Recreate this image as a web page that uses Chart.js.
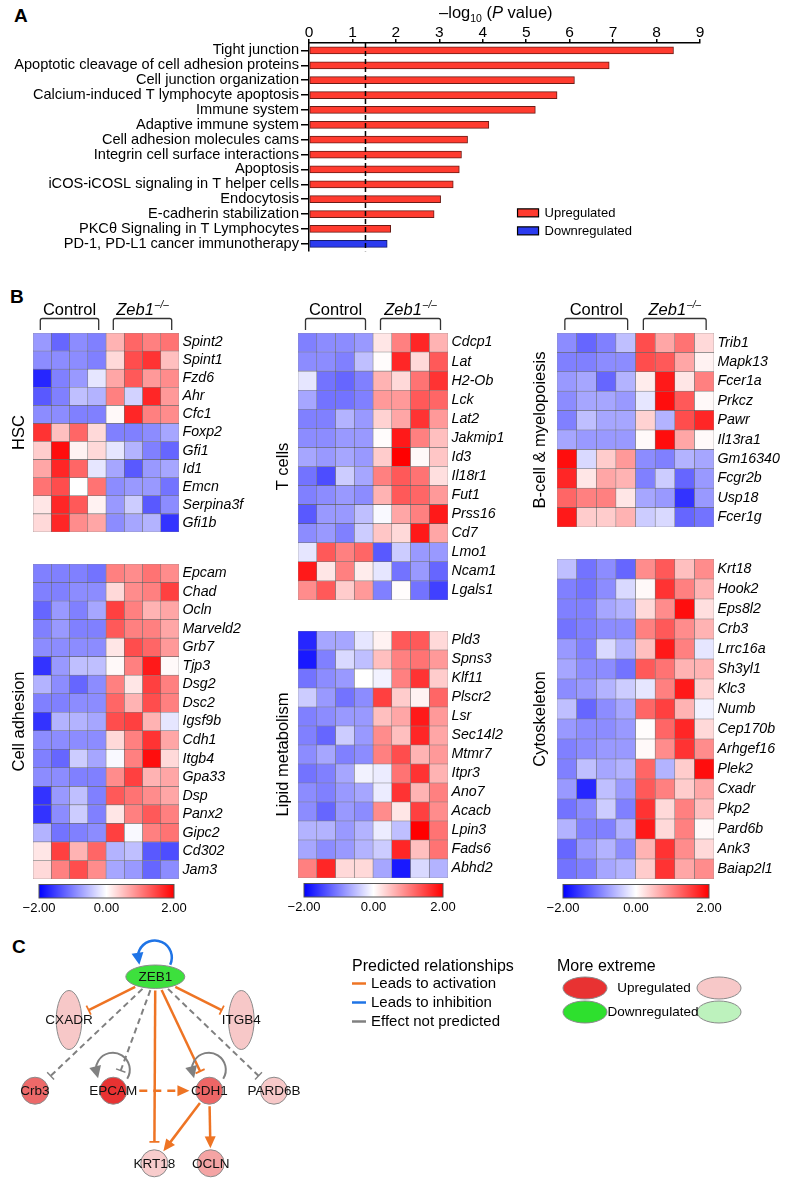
<!DOCTYPE html>
<html lang="en">
<head>
<meta charset="UTF-8">
<meta name="viewport" content="width=device-width, initial-scale=1.0">
<title>Zeb1 pathways, heatmaps and network</title>
<script src="https://cdn.jsdelivr.net/npm/chart.js"></script>
<style>
  html, body { margin: 0; padding: 0; background: #fff; }
  body { position: relative; width: 790px; height: 1184px; overflow: hidden;
         font-family: "Liberation Sans", Arial, Helvetica, sans-serif; }
  canvas { position: absolute; }
  .panel { position: absolute; font-weight: bold; font-size: 19px; line-height: 1; }
</style>
</head>
<body>
<div class="panel" style="left:14px;top:6px">A</div>
<div class="panel" style="left:10px;top:287px">B</div>
<div class="panel" style="left:12px;top:937px">C</div>

<script>
    // ---- panel A data ----
    const pathways = ['Tight junction', 'Apoptotic cleavage of cell adhesion proteins', 'Cell junction organization',
        'Calcium-induced T lymphocyte apoptosis', 'Immune system', 'Adaptive immune system',
        'Cell adhesion molecules cams', 'Integrin cell surface interactions', 'Apoptosis',
        'iCOS-iCOSL signaling in T helper cells', 'Endocytosis', 'E-cadherin stabilization',
        'PKC\u03B8 Signaling in T Lymphocytes', 'PD-1, PD-L1 cancer immunotherapy'];
    const upregulated = [8.39, 6.91, 6.11, 5.71, 5.21, 4.14, 3.65, 3.51, 3.46, 3.32, 3.03, 2.88, 1.88, null];
    const downregulated = [null, null, null, null, null, null, null, null, null, null, null, null, null, 1.80];
    const pCutoff = 1.30;
    const xTickValues = [0, 1, 2, 3, 4, 5, 6, 7, 8, 9];

    // ---- panel B data (z-scores, 4 control + 4 Zeb1-/- samples) ----
    const sampleGroups = ['Control', 'Zeb1'];
    const samplesPerGroup = 4;
    const colorbarTicks = [-2, 0, 2];

    const hscGenes = ['Spint2', 'Spint1', 'Fzd6', 'Ahr', 'Cfc1', 'Foxp2', 'Gfi1', 'Id1', 'Emcn', 'Serpina3f', 'Gfi1b'];
    const hscValues = [
        [-0.8, -1.2, -0.9, -1.0, 0.6, 1.2, 1.0, 1.1],
        [-0.9, -0.9, -0.9, -1.0, 0.3, 1.4, 1.6, 0.5],
        [-1.7, -1.0, -0.8, -0.2, 0.7, 1.3, 0.8, 0.9],
        [-1.3, -1.0, -0.5, -0.6, 1.0, -0.35, 1.7, 0.8],
        [-0.9, -0.9, -1.0, -1.0, 0.05, 1.7, 1.0, 0.9],
        [1.6, 0.5, 1.2, 0.3, -1.0, -1.0, -0.9, -0.7],
        [0.4, 1.9, 0.1, 0.3, -0.2, -0.6, -1.0, -1.2],
        [0.7, 1.7, 1.2, -0.2, -0.7, -1.3, -0.8, -0.7],
        [1.1, 1.4, 0.0, 1.1, -0.9, -0.8, -0.8, -1.1],
        [0.2, 1.7, 1.3, 0.1, -0.8, -0.4, -1.3, -0.9],
        [0.3, 1.7, 0.9, 0.7, -0.9, -0.7, -0.6, -1.6]
    ];
    const adhesionGenes = ['Epcam', 'Chad', 'Ocln', 'Marveld2', 'Grb7', 'Tjp3', 'Dsg2', 'Dsc2', 'Igsf9b', 'Cdh1',
        'Itgb4', 'Gpa33', 'Dsp', 'Panx2', 'Gipc2', 'Cd302', 'Jam3'];
    const adhesionValues = [
        [-1.0, -1.0, -1.0, -1.1, 1.0, 0.9, 1.1, 0.9],
        [-1.0, -1.0, -0.9, -0.9, 0.3, 0.9, 1.0, 1.5],
        [-1.2, -0.8, -1.0, -0.7, 1.5, 1.0, 0.6, 0.7],
        [-1.0, -0.8, -1.0, -1.0, 1.3, 1.0, 1.0, 0.7],
        [-0.9, -0.9, -0.9, -0.9, 0.2, 1.4, 1.2, 0.8],
        [-1.6, -0.8, -0.5, -0.5, 0.05, 1.0, 1.8, 0.05],
        [-0.6, -0.9, -1.2, -0.9, 1.0, 0.2, 1.5, 1.0],
        [-1.0, -1.0, -0.9, -0.9, 1.2, 0.6, 1.4, 1.0],
        [-1.6, -0.6, -0.6, -0.7, 1.4, 1.5, 0.6, -0.2],
        [-0.9, -0.9, -0.9, -0.9, 0.3, 1.0, 1.6, 0.7],
        [-1.0, -1.2, -0.4, -0.7, -0.05, 1.0, 1.9, 0.3],
        [-0.9, -0.9, -1.0, -1.0, 0.9, 1.5, 0.6, 0.7],
        [-1.6, -0.8, -0.5, -1.0, 1.3, 1.1, 0.9, 0.7],
        [-1.6, -0.9, -0.4, -1.0, 0.2, 1.0, 1.3, 1.0],
        [-0.6, -1.1, -1.0, -0.9, 1.5, -0.05, 1.0, 1.1],
        [0.2, 1.5, 0.6, 1.2, -0.6, -0.5, -1.3, -1.4],
        [0.3, 1.0, 1.4, 0.9, -0.7, -0.8, -1.2, -0.9]
    ];
    const tcellGenes = ['Cdcp1', 'Lat', 'H2-Ob', 'Lck', 'Lat2', 'Jakmip1', 'Id3', 'Il18r1', 'Fut1', 'Prss16', 'Cd7',
        'Lmo1', 'Ncam1', 'Lgals1'];
    const tcellValues = [
        [-1.0, -0.9, -0.9, -0.8, 0.2, 1.0, 1.7, 0.6],
        [-0.9, -0.9, -1.0, -0.5, 0.02, 1.7, 0.3, 1.3],
        [-0.2, -1.1, -1.2, -1.0, 0.6, 0.3, 1.1, 1.6],
        [-0.7, -1.1, -1.1, -1.0, 0.8, 0.8, 1.3, 1.2],
        [-1.0, -1.0, -0.6, -0.8, 0.35, 0.7, 1.6, 0.8],
        [-0.9, -0.9, -0.8, -0.8, 0.02, 1.8, 1.0, 0.5],
        [-0.7, -0.8, -0.7, -0.8, 0.4, 2.0, 0.05, 0.45],
        [-1.1, -1.4, -0.4, -0.7, 1.0, 1.3, 1.1, 0.25],
        [-1.0, -0.9, -0.8, -0.9, 0.6, 1.3, 1.2, 0.8],
        [-1.3, -0.8, -0.8, -0.5, -0.05, 0.7, 1.0, 1.8],
        [-0.9, -0.8, -1.0, -0.4, 0.45, 0.3, 1.8, 0.7],
        [-0.2, 1.3, 1.0, 1.2, -1.3, -0.4, -0.8, -0.8],
        [1.8, 0.2, 1.0, 0.15, -0.2, -1.1, -0.8, -1.2],
        [0.9, 1.3, 0.4, 0.8, -1.0, 0.02, -1.1, -1.5]
    ];
    const lipidGenes = ['Pld3', 'Spns3', 'Klf11', 'Plscr2', 'Lsr', 'Sec14l2', 'Mtmr7', 'Itpr3', 'Ano7', 'Acacb',
        'Lpin3', 'Fads6', 'Abhd2'];
    const lipidValues = [
        [-1.7, -0.7, -0.7, -0.2, 0.1, 1.3, 1.3, 0.3],
        [-1.8, -1.0, -0.3, -0.5, 0.5, 1.0, 1.1, 0.8],
        [-1.1, -0.9, -0.8, 0.0, -0.1, 1.0, 1.6, 0.4],
        [-0.4, -0.8, -1.1, -0.9, 1.5, 0.4, 0.1, 1.2],
        [-1.0, -0.9, -0.8, -0.8, 0.5, 0.7, 1.8, 0.8],
        [-1.0, -1.2, -0.4, -0.8, 0.9, 0.5, 1.7, 0.7],
        [-0.9, -0.7, -1.0, -0.9, 1.0, 1.4, 0.6, 0.8],
        [-1.1, -1.0, -0.7, -0.1, -0.15, 1.1, 1.6, 0.6],
        [-0.9, -1.0, -0.8, -0.7, -0.15, 1.6, 0.6, 1.0],
        [-0.9, -1.2, -0.8, -0.9, 0.9, 0.2, 1.5, 0.9],
        [-0.6, -0.6, -0.8, -0.6, -0.15, -0.5, 2.0, 1.1],
        [-0.7, -0.9, -0.8, -0.6, -0.4, 1.7, 0.5, 1.1],
        [1.0, 1.7, 0.3, 0.3, -0.7, -1.8, -0.3, -0.6]
    ];
    const bcellGenes = ['Trib1', 'Mapk13', 'Fcer1a', 'Prkcz', 'Pawr', 'Il13ra1', 'Gm16340', 'Fcgr2b', 'Usp18', 'Fcer1g'];
    const bcellValues = [
        [-0.9, -1.2, -1.0, -0.5, 1.4, 0.7, 1.1, 0.3],
        [-1.0, -1.0, -0.9, -0.9, 1.4, 1.3, 0.7, 0.1],
        [-0.8, -0.7, -1.2, -0.6, 0.15, 1.8, 0.2, 1.0],
        [-0.9, -0.7, -0.7, -0.8, -0.2, 1.9, 1.3, 0.05],
        [-1.0, -0.5, -0.7, -0.7, 0.35, -0.6, 1.4, 1.7],
        [-0.7, -0.8, -0.8, -0.8, 0.05, 1.9, 0.7, 0.05],
        [1.9, -0.3, 0.4, 0.8, -0.9, -1.0, -0.6, -0.7],
        [1.7, 0.2, 0.7, 0.6, -1.0, -0.4, -1.2, -0.8],
        [1.2, 1.0, 1.0, 0.2, -0.7, -0.8, -1.6, -0.8],
        [1.8, 0.4, 0.4, 0.6, -0.4, -0.3, -1.2, -1.1]
    ];
    const cytoGenes = ['Krt18', 'Hook2', 'Eps8l2', 'Crb3', 'Lrrc16a', 'Sh3yl1', 'Klc3', 'Numb', 'Cep170b', 'Arhgef16',
        'Plek2', 'Cxadr', 'Pkp2', 'Pard6b', 'Ank3', 'Baiap2l1'];
    const cytoValues = [
        [-0.5, -1.1, -0.9, -1.2, 0.9, 1.3, 0.5, 0.9],
        [-1.0, -1.1, -0.9, -0.3, 0.05, 1.6, 1.0, 0.6],
        [-1.0, -1.0, -0.7, -0.6, 0.3, 0.9, 1.9, 0.25],
        [-1.1, -1.0, -0.9, -0.9, 1.0, 1.3, 0.9, 0.6],
        [-0.8, -1.0, -0.3, -0.6, 0.5, 1.8, 1.0, -0.2],
        [-0.7, -0.9, -0.9, -1.1, 1.3, 1.1, 0.6, 0.6],
        [-0.9, -0.8, -0.6, -0.4, -0.2, 1.0, 1.8, 0.35],
        [-0.5, -1.2, -0.9, -0.7, 1.2, 1.5, 0.6, -0.1],
        [-0.8, -0.9, -0.9, -0.8, 0.02, 1.2, 1.7, 0.3],
        [-1.0, -0.9, -0.8, -0.8, 0.05, 0.9, 1.6, 0.9],
        [-1.0, -0.5, -0.7, -0.6, 1.2, -0.6, 0.4, 1.9],
        [-0.8, -1.7, -0.5, -0.8, 1.3, 1.0, 0.4, 0.7],
        [-1.1, -0.9, -0.4, -1.0, 1.6, 0.3, 1.0, 0.5],
        [-0.6, -1.0, -1.0, -0.6, 1.8, 0.3, 1.0, 0.05],
        [-1.2, -0.8, -0.6, -0.9, 0.6, 1.6, 0.9, 0.3],
        [-1.1, -1.0, -0.7, -0.6, 0.4, 1.6, 0.7, 0.9]
    ];

    // ---- panel C data (network) ----
    const nodeNames = ['ZEB1', 'CXADR', 'ITGB4', 'Crb3', 'EPCAM', 'CDH1', 'PARD6B', 'KRT18', 'OCLN'];
    const nodeX = [155.3, 69, 241.3, 35, 113.3, 209.3, 274, 154.3, 210.7];
    const nodeY = [976.7, 1020, 1020, 1090.7, 1090.7, 1090.7, 1090.7, 1163.3, 1163.3];
    const nodeChange = [-2, 0.26, 0.26, 1.26, 1.84, 1.3, 0.26, 0.22, 0.64];
    const edgeSource = ['ZEB1', 'ZEB1', 'ZEB1', 'ZEB1', 'ZEB1', 'ZEB1', 'ZEB1', 'EPCAM', 'CDH1', 'CDH1'];
    const edgeTarget = ['CXADR', 'ITGB4', 'Crb3', 'EPCAM', 'KRT18', 'CDH1', 'PARD6B', 'CDH1', 'KRT18', 'OCLN'];
    const edgeEffect = ['activation', 'activation', 'unknown', 'unknown', 'activation', 'activation', 'unknown',
        'activation', 'activation', 'activation'];
    const edgeDirect = [true, true, true, true, true, true, true, false, true, true];
    const edgeEnd = ['bar', 'bar', 'bar', 'bar', 'bar', 'bar', 'bar', 'arrow', 'arrow', 'arrow'];
    const selfLoopNode = ['ZEB1', 'EPCAM', 'CDH1'];
    const selfLoopEffect = ['inhibition', 'unknown', 'unknown'];
    const relationLabels = ['Leads to activation', 'Leads to inhibition', 'Effect not predicted'];

    // ---- setup ----
    const FONT = '"Liberation Sans", Arial, Helvetica, sans-serif';
    Chart.defaults.font.family = FONT;
    Chart.defaults.color = '#000';
    Chart.defaults.animation = false;
    Chart.defaults.events = [];
    Chart.defaults.plugins.legend.display = false;
    Chart.defaults.plugins.tooltip.enabled = false;

    function addCanvas(id, left, top, w, h) {
        const c = document.createElement('canvas');
        c.id = id;
        c.width = w;
        c.height = h;
        c.style.left = left + 'px';
        c.style.top = top + 'px';
        c.style.width = w + 'px';
        c.style.height = h + 'px';
        document.body.appendChild(c);
        return c;
    }

    // ================= panel A =================
    const refLine = {
        id: 'refLine',
        afterDatasetsDraw(chart) {
            const {ctx, chartArea, scales: {x}} = chart;
            const px = x.getPixelForValue(pCutoff);
            ctx.save();
            ctx.strokeStyle = '#000';
            ctx.lineWidth = 1.5;
            ctx.setLineDash([5, 3]);
            ctx.beginPath();
            ctx.moveTo(px, chartArea.top);
            ctx.lineTo(px, chartArea.bottom);
            ctx.stroke();
            ctx.restore();
        }
    };

    const axisTitleA = {
        id: 'axisTitleA',
        afterDraw(chart) {
            const {ctx, scales: {x}} = chart;
            const parts = [
                {t: '\u2013log', f: '16.5px ' + FONT, dy: 0},
                {t: '10', f: '10.5px ' + FONT, dy: 4},
                {t: ' (', f: '16.5px ' + FONT, dy: 0},
                {t: 'P', f: 'italic 16.5px ' + FONT, dy: 0},
                {t: ' value)', f: '16.5px ' + FONT, dy: 0}
            ];
            ctx.save();
            let total = 0;
            parts.forEach(p => { ctx.font = p.f; p.w = ctx.measureText(p.t).width; total += p.w; });
            let cx = x.getPixelForValue(4.3) - total / 2;
            const base = 18;
            ctx.fillStyle = '#000';
            ctx.textBaseline = 'alphabetic';
            parts.forEach(p => { ctx.font = p.f; ctx.fillText(p.t, cx, base + p.dy); cx += p.w; });
            ctx.restore();
        }
    };

    const legendA = {
        id: 'legendA',
        afterDraw(chart) {
            const {ctx, scales: {x, y}} = chart;
            const bx = x.getPixelForValue(4.8);
            const base = y.getPixelForValue(11) - 1.2;
            ctx.save();
            chart.data.datasets.forEach((ds, i) => {
                const cy = base + i * 18;
                ctx.fillStyle = ds.backgroundColor;
                ctx.fillRect(bx, cy - 4, 21, 8);
                ctx.strokeStyle = '#000';
                ctx.lineWidth = 1.2;
                ctx.strokeRect(bx, cy - 4, 21, 8);
                ctx.fillStyle = '#000';
                ctx.font = '13px ' + FONT;
                ctx.textBaseline = 'middle';
                ctx.fillText(ds.label, bx + 27, cy + 0.5);
            });
            ctx.restore();
        }
    };

    const canvasA = addCanvas('pathways', 0, 0, 790, 262);
    new Chart(canvasA, {
        type: 'bar',
        data: {
            labels: pathways,
            datasets: [
                {label: 'Upregulated', data: upregulated, backgroundColor: '#FF3B2F', borderColor: '#6b1c16',
                 borderWidth: 1, borderSkipped: false, barThickness: 7, grouped: false},
                {label: 'Downregulated', data: downregulated, backgroundColor: '#2B3BEF', borderColor: '#151a6b',
                 borderWidth: 1, borderSkipped: false, barThickness: 7, grouped: false}
            ]
        },
        options: {
            responsive: false,
            indexAxis: 'y',
            layout: {padding: {right: 90, bottom: 6}},
            scales: {
                x: {
                    position: 'top', min: 0, max: 9,
                    afterBuildTicks: s => { s.ticks = xTickValues.map(v => ({value: v})); },
                    ticks: {font: {size: 15.5, lineHeight: 1}, padding: -1.5, color: '#000'},
                    grid: {drawOnChartArea: false, tickLength: 4, color: '#000', lineWidth: 1.5},
                    border: {color: '#000', width: 1.5},
                    afterFit(s) { s.height = 43; }
                },
                y: {
                    ticks: {font: {size: 14.6}, padding: 2, color: '#000', autoSkip: false},
                    grid: {drawOnChartArea: false, offset: false, tickLength: 8, color: '#000', lineWidth: 1.5},
                    border: {color: '#000', width: 1.5},
                    afterFit(s) { s.width = 309; }
                }
            }
        },
        plugins: [refLine, axisTitleA, legendA]
    });

    // ================= panel B =================
    function heatColor(v) {
        const t = Math.min(Math.abs(v), 2) / 2;
        const k = Math.round(255 * (1 - t));
        return v < 0 ? `rgb(${k},${k},255)` : `rgb(255,${k},${k})`;
    }

    const heatDecor = {
        id: 'heatDecor',
        afterDraw(chart, args, opts) {
            const {ctx, chartArea: ca, scales: {x}} = chart;
            ctx.save();
            if (opts.header) {
                ctx.strokeStyle = '#333';
                ctx.lineWidth = 1.3;
                const y0 = ca.top - 14.5, y1 = ca.top - 3;
                sampleGroups.forEach((g, gi) => {
                    const x0 = x.getPixelForValue(gi * samplesPerGroup + 0.4);
                    const x1 = x.getPixelForValue((gi + 1) * samplesPerGroup - 0.4);
                    ctx.beginPath();
                    ctx.moveTo(x0, y1);
                    ctx.lineTo(x0, y0 + 2);
                    ctx.quadraticCurveTo(x0, y0, x0 + 2, y0);
                    ctx.lineTo(x1 - 2, y0);
                    ctx.quadraticCurveTo(x1, y0, x1, y0 + 2);
                    ctx.lineTo(x1, y1);
                    ctx.stroke();
                    const cx = x.getPixelForValue((gi + 0.5) * samplesPerGroup);
                    const base = ca.top - 18.5;
                    ctx.fillStyle = '#000';
                    ctx.textBaseline = 'alphabetic';
                    if (gi === 0) {
                        ctx.font = '16.5px ' + FONT;
                        ctx.textAlign = 'center';
                        ctx.fillText(g, cx, base);
                    } else {
                        ctx.textAlign = 'left';
                        ctx.font = 'italic 16.5px ' + FONT;
                        const w1 = ctx.measureText(g).width;
                        ctx.font = 'italic 10px ' + FONT;
                        const w2 = ctx.measureText('\u2013/\u2013').width;
                        const sx = cx - (w1 + w2 + 1) / 2;
                        ctx.font = 'italic 16.5px ' + FONT;
                        ctx.fillText(g, sx, base);
                        ctx.font = 'italic 10px ' + FONT;
                        ctx.fillText('\u2013/\u2013', sx + w1 + 1, base - 6.5);
                    }
                });
            }
            if (opts.colorbar) {
                const x0 = ca.left + 6, x1 = ca.right - 5;
                const top = ca.bottom + 5.5, h = 13.5;
                const grad = ctx.createLinearGradient(x0, 0, x1, 0);
                grad.addColorStop(0, 'rgb(0,0,255)');
                grad.addColorStop(0.5, 'rgb(255,255,255)');
                grad.addColorStop(1, 'rgb(255,0,0)');
                ctx.fillStyle = grad;
                ctx.fillRect(x0, top, x1 - x0, h);
                ctx.strokeStyle = '#555';
                ctx.lineWidth = 1;
                ctx.strokeRect(x0, top, x1 - x0, h);
                ctx.fillStyle = '#000';
                ctx.font = '13px ' + FONT;
                ctx.textAlign = 'center';
                ctx.textBaseline = 'middle';
                colorbarTicks.forEach(v => {
                    const px = x0 + (v + 2) / 4 * (x1 - x0);
                    const txt = (v < 0 ? '\u2212' : '') + Math.abs(v).toFixed(2);
                    ctx.fillText(txt, px, top + h + 10);
                });
            }
            ctx.restore();
        }
    };

    function drawHeatmap(id, title, genes, values, L) {
        const sideW = L.gridLeft - L.canvasLeft;
        const headH = L.header ? 50 : 0;
        const footH = L.colorbar ? 40 : 0;
        const w = Math.round(sideW + L.gridW + L.labelW);
        const h = headH + L.gridH + footH;
        const cv = addCanvas(id, L.canvasLeft, L.gridTop - headH, w, h);
        const datasets = [];
        for (let c = 0; c < samplesPerGroup * sampleGroups.length; c++) {
            datasets.push({
                data: genes.map(() => 1),
                backgroundColor: values.map(r => heatColor(r[c])),
                borderColor: 'rgba(45,45,45,0.55)',
                borderWidth: 0.6,
                borderSkipped: false,
                barPercentage: 1,
                categoryPercentage: 1,
                yAxisID: 'y'
            });
        }
        new Chart(cv, {
            type: 'bar',
            data: {labels: genes, datasets},
            options: {
                responsive: false,
                indexAxis: 'y',
                layout: {padding: {top: headH, bottom: footH, left: 0, right: 0}},
                scales: {
                    x: {stacked: true, min: 0, max: samplesPerGroup * sampleGroups.length, display: false},
                    y: {
                        stacked: true, position: 'right',
                        ticks: {font: {size: 14.2, style: 'italic'}, color: '#000', padding: 3.5, autoSkip: false},
                        grid: {display: false, drawTicks: false},
                        border: {display: false},
                        afterFit(s) { s.width = w - sideW - L.gridW; }
                    },
                    side: {
                        axis: 'y', type: 'category', position: 'left',
                        grid: {display: false, drawTicks: false},
                        border: {display: false},
                        ticks: {display: false},
                        title: {display: true, text: title, font: {size: 16.5}, color: '#000',
                                padding: {top: L.titleX - L.canvasLeft - 9.9, bottom: 0}},
                        afterFit(s) { s.width = sideW; }
                    }
                },
                plugins: {heatDecor: {header: L.header, colorbar: L.colorbar}}
            },
            plugins: [heatDecor]
        });
    }

    drawHeatmap('hsc', 'HSC', hscGenes, hscValues,
        {canvasLeft: 3, gridLeft: 33, gridW: 146, labelW: 72, gridTop: 333, gridH: 211, titleX: 19.5, header: true});
    drawHeatmap('adhesion', 'Cell adhesion', adhesionGenes, adhesionValues,
        {canvasLeft: 3, gridLeft: 33, gridW: 146, labelW: 72, gridTop: 552, gridH: 327, titleX: 19.5, colorbar: true});
    drawHeatmap('tcells', 'T cells', tcellGenes, tcellValues,
        {canvasLeft: 268, gridLeft: 298, gridW: 150, labelW: 72, gridTop: 333, gridH: 279, titleX: 283, header: true});
    drawHeatmap('lipid', 'Lipid metabolism', lipidGenes, lipidValues,
        {canvasLeft: 268, gridLeft: 298, gridW: 150, labelW: 72, gridTop: 619, gridH: 259, titleX: 283, colorbar: true});
    drawHeatmap('bcell', 'B-cell & myelopoiesis', bcellGenes, bcellValues,
        {canvasLeft: 527, gridLeft: 557, gridW: 157, labelW: 72, gridTop: 333, gridH: 206, titleX: 540.5, header: true});
    drawHeatmap('cyto', 'Cytoskeleton', cytoGenes, cytoValues,
        {canvasLeft: 527, gridLeft: 557, gridW: 157, labelW: 72, gridTop: 547, gridH: 332, titleX: 540.5, colorbar: true});

    // ================= panel C =================
    const effectStyle = {
        activation: {color: '#EE7424', width: 2.5, dash: []},
        inhibition: {color: '#1F74E6', width: 2.5, dash: []},
        unknown: {color: '#808080', width: 2, dash: [6, 4]}
    };
    const nodeShape = {ZEB1: {rx: 29.5, ry: 11.7}, CXADR: {rx: 12.8, ry: 29.5}, ITGB4: {rx: 12.8, ry: 29.5}};

    function nodeFill(v) {
        if (v < 0) return '#3DE03D';
        const t = Math.min(v / 2, 1);
        const g = Math.round(225 - 190 * t);
        return `rgb(${Math.round(250 - 20 * t)},${g},${g})`;
    }

    function arrowHead(ctx, tx, ty, ux, uy, len, half) {
        ctx.beginPath();
        ctx.moveTo(tx, ty);
        ctx.lineTo(tx - ux * len - uy * half, ty - uy * len + ux * half);
        ctx.lineTo(tx - ux * len + uy * half, ty - uy * len - ux * half);
        ctx.closePath();
        ctx.fill();
    }

    function tBar(ctx, tx, ty, ux, uy, half) {
        ctx.beginPath();
        ctx.moveTo(tx - uy * half, ty + ux * half);
        ctx.lineTo(tx + uy * half, ty - ux * half);
        ctx.stroke();
    }

    const netPlugin = {
        id: 'net',
        afterDatasetsDraw(chart) {
            const {ctx, scales: {x, y}} = chart;
            const meta = chart.getDatasetMeta(0);
            const labelFont = '13.5px ' + FONT;
            ctx.save();
            ctx.font = labelFont;
            const pos = {};
            nodeNames.forEach((n, i) => {
                const s = nodeShape[n] || {rx: 13.5, ry: 13.5};
                pos[n] = {x: meta.data[i].x, y: meta.data[i].y, rx: s.rx, ry: s.ry,
                          hw: ctx.measureText(n).width / 2, fill: nodeFill(nodeChange[i])};
            });

            // edges
            edgeSource.forEach((src, i) => {
                const a = pos[src], b = pos[edgeTarget[i]];
                let ux = b.x - a.x, uy = b.y - a.y;
                const d = Math.hypot(ux, uy);
                ux /= d; uy /= d;
                const rim = n => 1 / Math.hypot(ux / n.rx, uy / n.ry);
                const s0 = Math.max(rim(a), Math.abs(ux) * a.hw) + 2;
                const isArrow = edgeEnd[i] === 'arrow';
                const e0 = isArrow ? Math.max(rim(b), Math.abs(ux) * b.hw) + 1.5 : rim(b) + 8;
                const sx = a.x + ux * s0, sy = a.y + uy * s0;
                const ex = b.x - ux * e0, ey = b.y - uy * e0;
                const st = effectStyle[edgeEffect[i]];
                ctx.strokeStyle = st.color;
                ctx.fillStyle = st.color;
                ctx.lineWidth = st.width;
                ctx.setLineDash(edgeDirect[i] ? st.dash : [8, 6]);
                ctx.beginPath();
                ctx.moveTo(sx, sy);
                ctx.lineTo(isArrow ? ex - ux * 10 : ex, isArrow ? ey - uy * 10 : ey);
                ctx.stroke();
                ctx.setLineDash([]);
                ctx.lineWidth = st.width * 0.7;
                if (isArrow) arrowHead(ctx, ex, ey, ux, uy, 12, 5.5);
                else tBar(ctx, ex, ey, ux, uy, 5);
            });

            // self loops
            selfLoopNode.forEach((n, i) => {
                const a = pos[n];
                const st = effectStyle[selfLoopEffect[i]];
                const r = 17, cx = a.x - 0.5, cy = a.y - a.ry - 7.5;
                const sA = (n === 'ZEB1' ? 25 : 32) * Math.PI / 180;
                const eA = (n === 'ZEB1' ? 155 : 150) * Math.PI / 180;
                const stopA = eA + 0.55;
                ctx.strokeStyle = st.color;
                ctx.fillStyle = st.color;
                ctx.lineWidth = st.width;
                ctx.beginPath();
                ctx.arc(cx, cy, r, sA, stopA, true);
                ctx.stroke();
                const tx = cx + r * Math.cos(eA), ty = cy + r * Math.sin(eA);
                const bx = cx + r * Math.cos(stopA), by = cy + r * Math.sin(stopA);
                const dl = Math.hypot(tx - bx, ty - by);
                arrowHead(ctx, tx, ty, (tx - bx) / dl, (ty - by) / dl, 12, 6);
            });

            // nodes
            nodeNames.forEach(n => {
                const a = pos[n];
                ctx.beginPath();
                ctx.ellipse(a.x, a.y, a.rx, a.ry, 0, 0, Math.PI * 2);
                ctx.fillStyle = a.fill;
                ctx.fill();
                ctx.strokeStyle = '#8a8a8a';
                ctx.lineWidth = 1;
                ctx.stroke();
            });
            ctx.fillStyle = '#111';
            ctx.font = labelFont;
            ctx.textAlign = 'center';
            ctx.textBaseline = 'middle';
            nodeNames.forEach(n => ctx.fillText(n, pos[n].x, pos[n].y + 0.5));

            // legends
            const px = v => x.getPixelForValue(v), py = v => y.getPixelForValue(v);
            ctx.textAlign = 'left';
            ctx.font = '16px ' + FONT;
            ctx.fillStyle = '#000';
            ctx.fillText('Predicted relationships', px(352), py(967));
            ctx.fillText('More extreme', px(557), py(967));
            ['activation', 'inhibition', 'unknown'].forEach((k, i) => {
                const yy = py(983.5 + i * 19);
                ctx.strokeStyle = effectStyle[k].color;
                ctx.lineWidth = 2.5;
                ctx.beginPath();
                ctx.moveTo(px(352), yy);
                ctx.lineTo(px(366), yy);
                ctx.stroke();
                ctx.fillStyle = '#000';
                ctx.font = '15px ' + FONT;
                ctx.fillText(relationLabels[i], px(371), yy + 0.5);
            });
            const legendNodes = [
                [585, 988, nodeFill(1.84)], [719, 988, nodeFill(0.26)],
                [585, 1012, '#2EE02E'], [719, 1012, '#BDF2BD']
            ];
            legendNodes.forEach(([lx, ly, col]) => {
                ctx.beginPath();
                ctx.ellipse(px(lx), py(ly), 22, 11, 0, 0, Math.PI * 2);
                ctx.fillStyle = col;
                ctx.fill();
                ctx.strokeStyle = '#8a8a8a';
                ctx.lineWidth = 1;
                ctx.stroke();
            });
            ctx.fillStyle = '#000';
            ctx.font = '13.5px ' + FONT;
            ctx.textAlign = 'center';
            ctx.fillText('Upregulated', px(654), py(988.5));
            ctx.fillText('Downregulated', px(653), py(1012.5));
            ctx.restore();
        }
    };

    const canvasC = addCanvas('network', 0, 930, 790, 254);
    new Chart(canvasC, {
        type: 'scatter',
        data: {
            datasets: [{
                data: nodeNames.map((n, i) => ({x: nodeX[i], y: nodeY[i]})),
                pointRadius: 0
            }]
        },
        options: {
            responsive: false,
            layout: {padding: 0},
            scales: {
                x: {type: 'linear', min: 0, max: 790, display: false},
                y: {type: 'linear', min: 930, max: 1184, reverse: true, display: false}
            }
        },
        plugins: [netPlugin]
    });
</script>
</body>
</html>
